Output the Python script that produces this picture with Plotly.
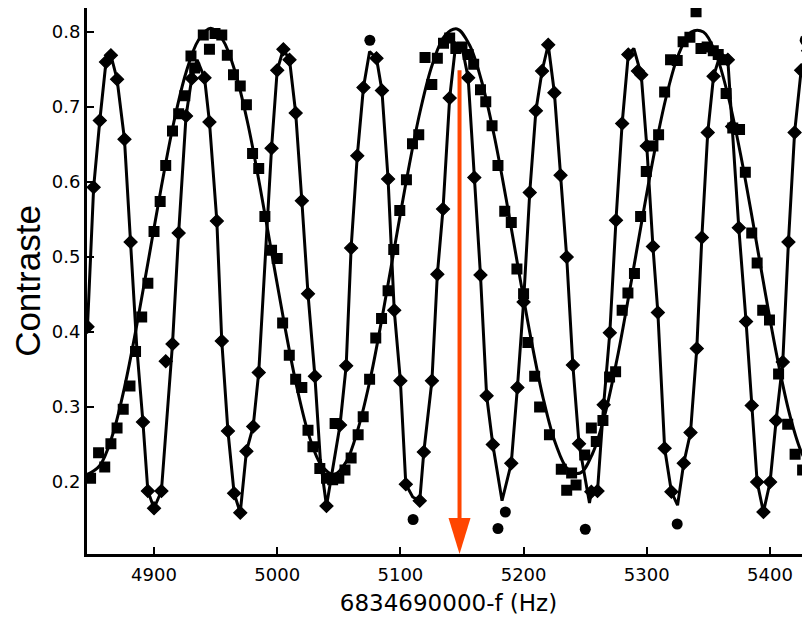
import plotly.graph_objects as go

# ---------------- data ----------------
# fast fringe (diamonds), points lying on the drawn curve
fast_x = [4846, 4851, 4856, 4861, 4865, 4870, 4876, 4881, 4891, 4895, 4900, 4906,
          4915, 4920, 4926, 4930.6, 4941, 4945, 4951, 4955, 4960, 4965, 4970, 4975,
          4980.5, 4985, 4995.4, 5000, 5005, 5010, 5015, 5020, 5025, 5030.6, 5040,
          5051, 5056, 5060, 5065, 5070, 5080.6, 5085, 5090, 5095, 5100, 5104.4,
          5115.7, 5119, 5125.6, 5130, 5134.6, 5140, 5155, 5160, 5165, 5170, 5175,
          5190, 5195, 5200, 5205, 5210, 5215, 5220, 5225, 5230, 5235, 5240, 5245,
          5255, 5260, 5265, 5270, 5275, 5280, 5285, 5295.5, 5300, 5305, 5309, 5314.5,
          5320, 5330, 5335.5, 5340.6, 5344.7, 5349.5, 5354.2, 5365.8, 5369.3, 5374.7,
          5380.6, 5385.2, 5389.6, 5394.7, 5400.1, 5405, 5410.4, 5415, 5420, 5425.3, 5431]
fast_y = [0.407, 0.593, 0.682, 0.760, 0.769, 0.737, 0.657, 0.520, 0.280, 0.188, 0.165, 0.188,
          0.384, 0.532, 0.688, 0.738, 0.739, 0.680, 0.548, 0.388, 0.268, 0.185, 0.159, 0.241,
          0.274, 0.346, 0.645, 0.749, 0.777, 0.763, 0.692, 0.575, 0.451, 0.341, 0.168,
          0.276, 0.355, 0.512, 0.635, 0.726, 0.765, 0.722, 0.604, 0.429, 0.335, 0.197,
          0.175, 0.240, 0.335, 0.477, 0.564, 0.712, 0.739, 0.606, 0.476, 0.315, 0.250,
          0.225, 0.326, 0.440, 0.586, 0.695, 0.748, 0.783, 0.719, 0.609, 0.500, 0.356, 0.251,
          0.187, 0.188, 0.303, 0.399, 0.549, 0.678, 0.770, 0.743, 0.648, 0.514, 0.426, 0.245,
          0.187, 0.225, 0.266, 0.378, 0.526, 0.666, 0.741, 0.763, 0.674, 0.539,
          0.414, 0.302, 0.200, 0.160, 0.200, 0.282, 0.360, 0.520, 0.666, 0.749, 0.775]
# fast fringe diamonds lying off the curve
fast_off_x = [4909.5, 5292.8]
fast_off_y = [0.361, 0.748]
# curve vertices of the fast fringe without a visible marker
fast_vertex_x = [4886, 4935, 4990.5, 5035, 5045.5, 5075, 5110, 5145, 5150, 5182.5,
                 5253.5, 5289.5, 5325, 5360]
fast_vertex_y = [0.380, 0.763, 0.500, 0.230, 0.220, 0.774, 0.180, 0.785, 0.780, 0.175,
                 0.172, 0.778, 0.169, 0.772]

# isolated round points
dot_x = [5075.2, 5110.3, 5179.2, 5185.2, 5250.1, 5324.7, 5428.6]
dot_y = [0.789, 0.150, 0.138, 0.160, 0.137, 0.144, 0.789]

# slow fringe (squares)
slow_x = [4848.5, 4855, 4860, 4865, 4870, 4875, 4880.5, 4885, 4890, 4895, 4900, 4905,
          4909.5, 4915, 4920, 4925, 4930, 4933, 4940, 4945, 4949.5, 4955, 4959.5, 4964.5,
          4970, 4975, 4980, 4985, 4990, 4995.4, 5000, 5004.4, 5009.8, 5015, 5020, 5025,
          5029, 5034.6, 5040, 5045, 5047, 5050, 5055, 5060, 5065.7, 5069.8, 5075, 5080,
          5084.7, 5090, 5094.6, 5099.5, 5104.9, 5109.8, 5114.9, 5120, 5125.5, 5130, 5135,
          5140, 5145, 5150, 5155, 5159.5, 5165, 5169.3, 5174.4, 5179.2, 5184.7, 5190,
          5194.6, 5200, 5203.5, 5209, 5213, 5221, 5230.6, 5235, 5239, 5242.6, 5249.6,
          5255, 5259, 5264.4, 5269.8, 5274.7, 5280, 5284.7, 5290, 5295, 5299.6, 5305,
          5309.6, 5314.5, 5319.3, 5324.7, 5329.5, 5335, 5340, 5344, 5349, 5354, 5358,
          5362.7, 5364.4, 5369.8, 5375.3, 5380, 5385.2, 5389.6, 5394.1, 5399.6, 5407,
          5414.4, 5420.4, 5426.5]
slow_y = [0.205, 0.239, 0.220, 0.251, 0.272, 0.297, 0.328, 0.374, 0.420, 0.465, 0.534, 0.574,
          0.622, 0.668, 0.691, 0.715, 0.768, 0.752, 0.796, 0.777, 0.798, 0.796, 0.769, 0.743,
          0.728, 0.703, 0.638, 0.618, 0.554, 0.509, 0.498, 0.412, 0.369, 0.337, 0.326, 0.269,
          0.247, 0.218, 0.205, 0.203, 0.278, 0.205, 0.216, 0.232, 0.263, 0.287, 0.337, 0.392,
          0.418, 0.455, 0.510, 0.562, 0.603, 0.651, 0.663, 0.766, 0.730, 0.765, 0.785,
          0.792, 0.778, 0.780, 0.770, 0.757, 0.723, 0.707, 0.675, 0.622, 0.561, 0.546,
          0.484, 0.451, 0.386, 0.341, 0.300, 0.263, 0.217, 0.189, 0.212, 0.196, 0.236,
          0.272, 0.254, 0.282, 0.340, 0.347, 0.429, 0.452, 0.478, 0.554, 0.614, 0.648,
          0.663, 0.720, 0.763, 0.762, 0.787, 0.793, 0.827, 0.778, 0.780, 0.775, 0.770,
          0.763, 0.718, 0.672, 0.670, 0.613, 0.532, 0.492, 0.429, 0.416, 0.344,
          0.277, 0.237, 0.216]

# smooth fitted curve of the slow fringe
slow_fit_x = [4846, 4856, 4866, 4876, 4886, 4896, 4906, 4916, 4926, 4936, 4946, 4956,
              4966, 4976, 4986, 4996, 5006, 5016, 5026, 5036, 5046, 5056, 5066, 5076,
              5086, 5096, 5106, 5116, 5126, 5136, 5146, 5156, 5166, 5176, 5186, 5196,
              5206, 5216, 5226, 5236, 5246, 5256, 5266, 5276, 5286, 5296, 5306, 5316,
              5326, 5336, 5346, 5356, 5366, 5376, 5386, 5396, 5406, 5416, 5426, 5436]
slow_fit_y = [0.210, 0.222, 0.261, 0.326, 0.409, 0.501, 0.594, 0.679, 0.746, 0.789, 0.805, 0.789,
              0.746, 0.679, 0.594, 0.501, 0.409, 0.326, 0.261, 0.222, 0.210, 0.227, 0.273, 0.341,
              0.427, 0.520, 0.612, 0.694, 0.757, 0.795, 0.804, 0.783, 0.734, 0.663, 0.576, 0.482,
              0.391, 0.311, 0.251, 0.217, 0.212, 0.238, 0.290, 0.365, 0.454, 0.548, 0.638, 0.715,
              0.771, 0.800, 0.800, 0.771, 0.715, 0.638, 0.548, 0.454, 0.365, 0.290, 0.238, 0.212]

x_ticks = [4900, 5000, 5100, 5200, 5300, 5400]
y_ticks = [0.2, 0.3, 0.4, 0.5, 0.6, 0.7, 0.8]

# arrow marking the central fringe
ARROW_X = 5148
ARROW_TOP = 0.749

X_RANGE = [4845.6, 5432.5]
Y_RANGE = [0.104, 0.832]

# ---------------- figure ----------------
# the page places the figure 8 px from the top-left corner
W, H = 802, 614
M_L, M_R, M_T, M_B = 79, 0, 0, 68
plot_w = W - M_L - M_R
plot_h = H - M_T - M_B
px_x = (X_RANGE[1] - X_RANGE[0]) / plot_w
px_y = (Y_RANGE[1] - Y_RANGE[0]) / plot_h

fast_line = sorted(zip(fast_x + fast_vertex_x, fast_y + fast_vertex_y))

fig = go.Figure()
fig.add_trace(go.Scatter(x=slow_fit_x, y=slow_fit_y, mode="lines",
                         line=dict(color="black", width=3, shape="spline", smoothing=1.0),
                         hoverinfo="skip", showlegend=False))
fig.add_trace(go.Scatter(x=[p[0] for p in fast_line], y=[p[1] for p in fast_line], mode="lines",
                         line=dict(color="black", width=3),
                         hoverinfo="skip", showlegend=False))
fig.add_trace(go.Scatter(x=fast_x + fast_off_x, y=fast_y + fast_off_y, mode="markers",
                         marker=dict(symbol="diamond", size=10, color="black",
                                     line=dict(color="black", width=1.2)),
                         showlegend=False))
fig.add_trace(go.Scatter(x=dot_x, y=dot_y, mode="markers",
                         marker=dict(symbol="circle", size=11, color="black"),
                         showlegend=False))
fig.add_trace(go.Scatter(x=slow_x, y=slow_y, mode="markers",
                         marker=dict(symbol="square", size=11, color="black"),
                         showlegend=False))

# arrow: shaft + long triangular head
head_len = 36 * px_y
head_half = 11 * px_x
tip = Y_RANGE[0]
fig.add_shape(type="line", xref="x", yref="y", x0=ARROW_X, x1=ARROW_X,
              y0=ARROW_TOP, y1=tip + head_len, line=dict(color="#FF4500", width=4),
              layer="above")
fig.add_shape(type="path", xref="x", yref="y",
              path=f"M {ARROW_X - head_half},{tip + head_len} L {ARROW_X + head_half},{tip + head_len} L {ARROW_X},{tip} Z",
              fillcolor="#FF4500", line=dict(color="#FF4500", width=0), layer="above")

fig.update_layout(
    width=W, height=H,
    margin=dict(l=M_L, r=M_R, t=M_T, b=M_B, pad=0),
    paper_bgcolor="white", plot_bgcolor="white",
    font=dict(family="DejaVu Sans", color="black"),
)
fig.update_xaxes(range=X_RANGE, tickvals=x_ticks, ticktext=[str(v) for v in x_ticks],
                 ticks="inside", ticklen=7, tickwidth=2, tickcolor="black",
                 showline=True, linecolor="black", linewidth=3, mirror=False,
                 showgrid=False, zeroline=False, ticklabelstandoff=2,
                 tickfont=dict(family="DejaVu Sans", size=18, color="black"),
                 title=dict(text="6834690000-f (Hz)", standoff=12,
                            font=dict(family="DejaVu Sans", size=23, color="black")))
fig.update_yaxes(range=Y_RANGE, tickvals=y_ticks, ticktext=[f"{v:.1f}" for v in y_ticks],
                 ticks="inside", ticklen=7, tickwidth=2, tickcolor="black",
                 showline=True, linecolor="black", linewidth=3, mirror=False,
                 showgrid=False, zeroline=False,
                 tickfont=dict(family="DejaVu Sans", size=18, color="black"),
                 title=dict(text="Contraste", standoff=6,
                            font=dict(family="Liberation Sans", size=35, color="black")))

fig.write_html("out.html")
